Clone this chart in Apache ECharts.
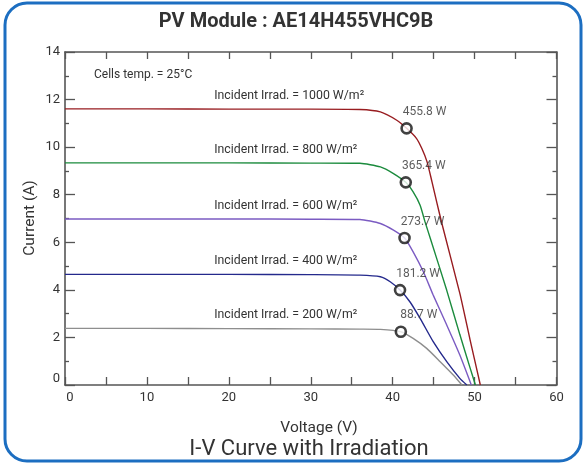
<!DOCTYPE html>
<html>
<head>
<meta charset="utf-8">
<script src="https://cdn.jsdelivr.net/npm/echarts@6/dist/echarts.min.js"></script>
<style>
html,body{margin:0;padding:0;background:#fff;}
#chart{width:583px;height:463px;}
</style>
</head>
<body>
<div id="chart"></div>
<script>
// ---- data ----
const irradiance = [1000, 800, 600, 400, 200];

const voltage1000 = [0, 10, 20, 30, 36.0, 38.5, 40.5, 41.7, 42.9, 43.55, 44.2, 44.8, 45.4, 46.0, 48.2, 49.45, 50.45, 50.7];
const current1000 = [11.61, 11.61, 11.6, 11.6, 11.58, 11.48, 11.13, 10.79, 10.37, 9.95, 9.38, 8.54, 7.66, 6.8, 3.85, 1.9, 0.38, 0];

const voltage800 = [0, 10, 20, 30, 36.0, 38.5, 40.1, 41.6, 42.5, 43.35, 43.95, 44.6, 46.6, 48.2, 49.45, 50.1];
const current800 = [9.34, 9.34, 9.34, 9.33, 9.32, 9.17, 8.89, 8.52, 8.12, 7.56, 6.86, 6.16, 3.98, 2.12, 0.72, 0];

const voltage600 = [0, 10, 20, 30, 36.0, 38.5, 40.1, 41.45, 42.5, 43.75, 44.95, 46.6, 48.2, 49.6];
const current600 = [6.98, 6.98, 6.98, 6.97, 6.96, 6.79, 6.51, 6.18, 5.6, 4.76, 3.78, 2.52, 1.26, 0];

const voltage400 = [0, 10, 20, 30, 36.0, 38.5, 39.7, 40.9, 42.1, 43.35, 44.95, 46.6, 48.2, 49.05];
const current400 = [4.65, 4.65, 4.65, 4.64, 4.62, 4.55, 4.34, 3.99, 3.5, 2.8, 1.82, 0.98, 0.28, 0];

const voltage200 = [0, 10, 20, 30, 36.0, 38.5, 41.0, 42.5, 44.15, 45.8, 47.4, 48.45];
const current200 = [2.38, 2.38, 2.37, 2.36, 2.35, 2.34, 2.24, 1.96, 1.54, 0.98, 0.42, 0];

const mppVoltage = [41.7, 41.6, 41.45, 40.9, 41.0];
const mppCurrent = [10.79, 8.52, 6.18, 3.99, 2.24];
const mppPower = [455.8, 365.4, 273.7, 181.2, 88.7];

const xTicks = [0, 10, 20, 30, 40, 50, 60];
const yTicks = [0, 2, 4, 6, 8, 10, 12, 14];

// ---- styling ----
const colors = ['#981c20', '#1b8b3d', '#7b5bc2', '#24298c', '#8e8e8e'];
const FONT = 'Roboto';
const curves = [
  [voltage1000, current1000],
  [voltage800, current800],
  [voltage600, current600],
  [voltage400, current400],
  [voltage200, current200]
];
const labelVoltage = 18.2;

const series = [];
curves.forEach(function (c, k) {
  const pts = c[0].map(function (v, i) { return [v, c[1][i]]; });
  series.push({
    type: 'line',
    data: pts,
    showSymbol: false,
    symbol: 'none',
    smooth: 0.2,
    lineStyle: { color: colors[k], width: 1.4 },
    z: 2,
    markPoint: {
      symbol: 'circle',
      symbolSize: 0.1,
      silent: true,
      data: [{
        coord: [labelVoltage, c[1][0]],
        label: {
          show: true,
          position: 'right',
          distance: 0,
          offset: [0, -13],
          formatter: 'Incident Irrad. = ' + irradiance[k] + ' W/m\u00B2',
          fontFamily: FONT,
          fontSize: 12.3,
          color: '#333'
        }
      }]
    }
  });
});

series.push({
  type: 'scatter',
  data: mppVoltage.map(function (v, i) { return [v, mppCurrent[i], mppPower[i]]; }),
  symbol: 'circle',
  symbolSize: 10,
  itemStyle: { color: '#fff', borderColor: '#111', borderWidth: 2.6 },
  z: 5,
  label: {
    show: true,
    position: 'top',
    distance: 4,
    offset: [18, 0],
    formatter: function (p) { return p.value[2] + ' W'; },
    fontFamily: FONT,
    fontSize: 12,
    color: '#333'
  }
});

const axisLineStyle = { color: '#555', width: 1.6 };
const tickStyle = { color: '#555', width: 1.3 };

const option = {
  animation: false,
  backgroundColor: '#fff',
  textStyle: { fontFamily: FONT },
  grid: { left: 65, right: 26.5, top: 52, bottom: 78 },
  xAxis: [{
    type: 'value', position: 'bottom', min: xTicks[0], max: xTicks[xTicks.length - 1], interval: 10,
    axisLine: { show: true, lineStyle: axisLineStyle },
    axisTick: { show: true, inside: true, length: 8, lineStyle: tickStyle },
    minorTick: { show: true, splitNumber: 2, length: 8, lineStyle: tickStyle },
    splitLine: { show: false },
    axisLabel: {
      margin: 6, fontSize: 13, color: '#333', fontFamily: FONT,
      formatter: function (v) { return v === 0 ? '{z|0}' : String(v); },
      rich: { z: { fontSize: 13, color: '#333', fontFamily: FONT, padding: [0, 0, 0, 10] } }
    }
  }, {
    type: 'value', position: 'top', min: xTicks[0], max: xTicks[xTicks.length - 1], interval: 10,
    axisLine: { show: true, onZero: false, lineStyle: axisLineStyle },
    axisTick: { show: true, inside: true, length: 7, lineStyle: tickStyle },
    minorTick: { show: true, splitNumber: 2, length: 7, lineStyle: tickStyle },
    splitLine: { show: false },
    axisLabel: { show: false }
  }],
  yAxis: [{
    type: 'value', position: 'left', min: yTicks[0], max: yTicks[yTicks.length - 1], interval: 2,
    axisLine: { show: true, lineStyle: axisLineStyle },
    axisTick: { show: true, inside: true, length: 10, lineStyle: tickStyle },
    minorTick: { show: true, splitNumber: 2, length: 4, lineStyle: tickStyle },
    splitLine: { show: false },
    axisLabel: {
      margin: 5, fontSize: 13, color: '#333', fontFamily: FONT,
      formatter: function (v) { return v === 0 ? '{z|0}' : String(v); },
      rich: { z: { fontSize: 13, color: '#333', fontFamily: FONT, padding: [0, 0, 12, 0] } }
    }
  }, {
    type: 'value', position: 'right', min: yTicks[0], max: yTicks[yTicks.length - 1], interval: 2,
    axisLine: { show: true, onZero: false, lineStyle: axisLineStyle },
    axisTick: { show: true, inside: true, length: 10, lineStyle: tickStyle },
    minorTick: { show: true, splitNumber: 2, length: 4, lineStyle: tickStyle },
    splitLine: { show: false },
    axisLabel: { show: false }
  }],
  graphic: [
    {
      type: 'rect', silent: true, z: 100,
      shape: { x: 5, y: 3, width: 576, height: 458, r: 22 },
      style: { fill: 'none', stroke: '#1c6ec1', lineWidth: 3 }
    },
    {
      type: 'text', x: 296, y: 22, silent: true,
      style: { text: 'PV Module : AE14H455VHC9B', fontFamily: FONT, fontWeight: 'bold', fontSize: 20, fill: '#333', textAlign: 'center', textVerticalAlign: 'middle' }
    },
    {
      type: 'text', x: 309, y: 449, silent: true,
      style: { text: 'I-V Curve with Irradiation', fontFamily: FONT, fontSize: 22, fill: '#333', textAlign: 'center', textVerticalAlign: 'middle' }
    },
    {
      type: 'text', x: 319, y: 428, silent: true,
      style: { text: 'Voltage (V)', fontFamily: FONT, fontSize: 15.5, fill: '#333', textAlign: 'center', textVerticalAlign: 'middle' }
    },
    {
      type: 'text', x: 30, y: 218, rotation: Math.PI / 2, silent: true,
      style: { text: 'Current (A)', fontFamily: FONT, fontSize: 15.5, fill: '#333', textAlign: 'center', textVerticalAlign: 'middle' }
    },
    {
      type: 'text', x: 94, y: 75, silent: true,
      style: { text: 'Cells temp. = 25\u00B0C', fontFamily: FONT, fontSize: 12, fill: '#333', textAlign: 'left', textVerticalAlign: 'middle' }
    }
  ],
  series: series
};

const chart = echarts.init(document.getElementById('chart'), null, { renderer: 'canvas' });
chart.setOption(option);
</script>
</body>
</html>
